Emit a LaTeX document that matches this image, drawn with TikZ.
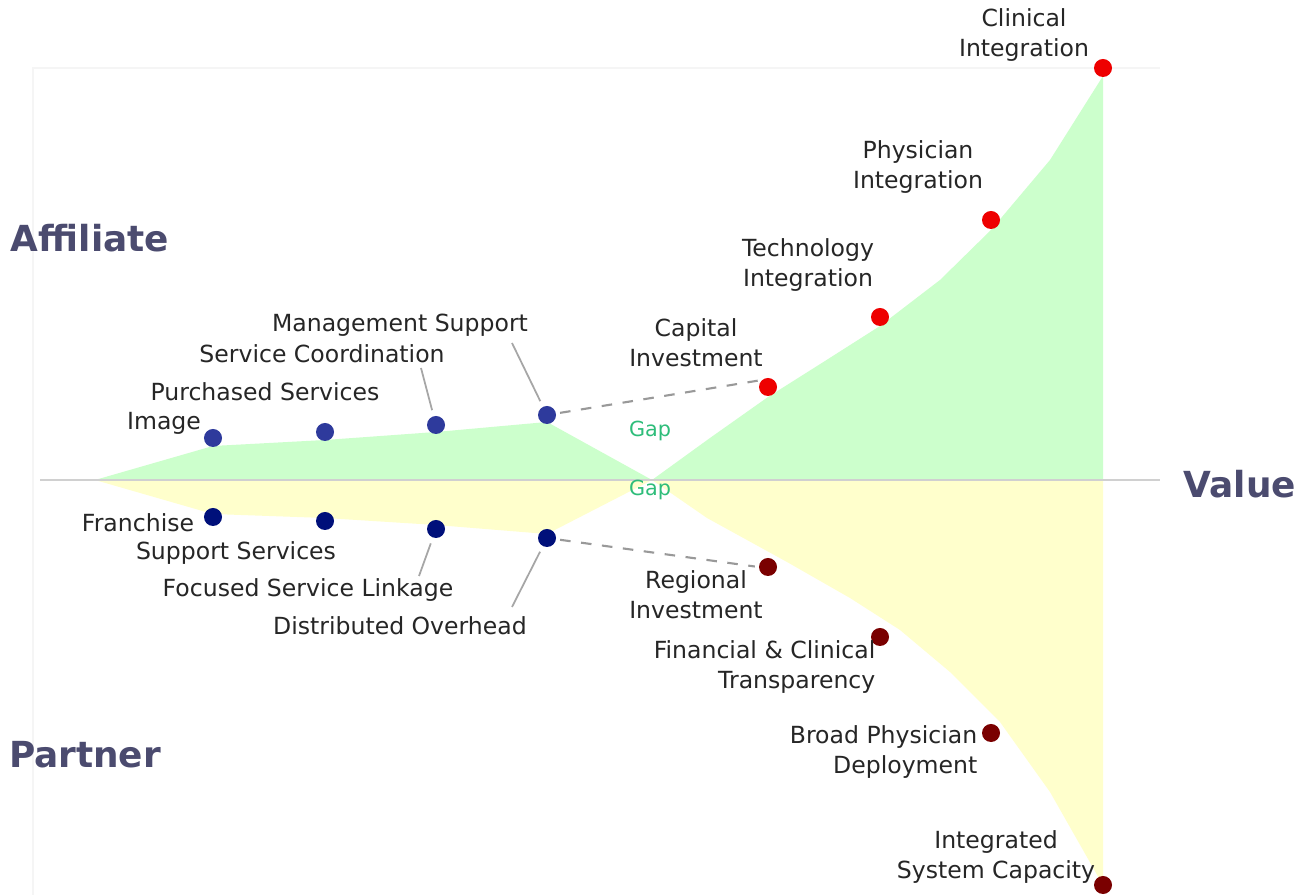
\documentclass[tikz,border=0pt]{standalone}
\usepackage{fontspec}
\setmainfont{DejaVu Sans}
\usepackage{tikz}
\usetikzlibrary{positioning}
\definecolor{textgray}{HTML}{262626}
\definecolor{headslate}{HTML}{4B4B6F}
\definecolor{affgreen}{HTML}{CCFFCC}
\definecolor{partyellow}{HTML}{FFFFCC}
\definecolor{upperblue}{HTML}{2E3A9C}
\definecolor{lowernavy}{HTML}{00107A}
\definecolor{brightred}{HTML}{EE0000}
\definecolor{darkred}{HTML}{7A0000}
\definecolor{gapgreen}{HTML}{2EBD7A}
\definecolor{rulegray}{HTML}{D0D0D0}
\tikzset{
  bubble/.style = {circle, inner sep = 0pt, minimum size = 0.18cm},
  lbl/.style = {text = textgray, align = center, inner sep = 0pt,
                font = \fontsize{6.7}{8.6}\selectfont},
  heading/.style = {text = headslate, inner sep = 0pt,
                    font = \fontsize{10.2}{12}\selectfont\bfseries},
  gaplbl/.style = {text = gapgreen, inner sep = 0pt,
                   font = \fontsize{5.9}{7}\selectfont},
  leader/.style = {draw = gray!70, line width = 0.5pt, shorten > = 1.6pt},
  gapline/.style = {draw = gray!80, dashed, line width = 0.6pt, shorten < = 1pt, shorten > = 1pt}
}
\begin{document}
\begin{tikzpicture}[x = 0.01cm, y = -0.01cm]
            \useasboundingbox (0,0) rectangle (1309,895);
            \fill [white] (0,0) rectangle (1309,895);
            \draw [black!4, line width = 0.4pt] (33,895) -- (33,68) -- (1160,68);

            % shaded bands
            \fill [affgreen] (95,480) -- (213,446) -- (325,440) -- (436,432)
                  -- (547,422) -- (652,480) -- cycle;
            \fill [affgreen] (652,480) -- (710,438) -- (768,397) -- (825,361)
                  -- (880,326) -- (940,280) -- (991,230) -- (1050,160) -- (1103,76)
                  -- (1103,480) -- cycle;
            \fill [partyellow] (95,480) -- (213,514) -- (325,518) -- (436,525)
                  -- (547,534) -- (652,480) -- cycle;
            \fill [partyellow] (652,480) -- (707,518) -- (787,562) -- (850,598)
                  -- (900,630) -- (950,672) -- (1000,722) -- (1050,792) -- (1100,880)
                  -- (1103,885) -- (1103,480) -- cycle;
            \draw [rulegray, line width = 0.6pt] (40,480) node (axis-start){}
                  -- (1160,480) node (axis-end){};

            % affiliate side
            \node [bubble, fill = upperblue] (image-dot) at (213,438) {};
            \node [bubble, fill = upperblue] (purchased-dot) at (325,432) {};
            \node [bubble, fill = upperblue] (coordination-dot) at (436,425) {};
            \node [bubble, fill = upperblue] (management-dot) at (547,415) {};
            \node [bubble, fill = brightred] (capital-dot) at (768,387) {};
            \node [bubble, fill = brightred] (technology-dot) at (880,317) {};
            \node [bubble, fill = brightred] (physician-dot) at (991,220) {};
            \node [bubble, fill = brightred] (clinical-dot) at (1103,68) {};

            % partner side
            \node [bubble, fill = lowernavy] (franchise-dot) at (213,517) {};
            \node [bubble, fill = lowernavy] (support-dot) at (325,521) {};
            \node [bubble, fill = lowernavy] (linkage-dot) at (436,529) {};
            \node [bubble, fill = lowernavy] (overhead-dot) at (547,538) {};
            \node [bubble, fill = darkred] (regional-dot) at (768,567) {};
            \node [bubble, fill = darkred] (transparency-dot) at (880,637) {};
            \node [bubble, fill = darkred] (deployment-dot) at (991,733) {};
            \node [bubble, fill = darkred] (capacity-dot) at (1103,885) {};

            \node [heading] (affiliate-head) at (90,238) {Affiliate};
            \node [heading] (partner-head) at (85,755) {Partner};
            \node [heading, anchor = west] (value-head) at (1183,484) {Value};
            \node [gaplbl] (upper-gap) at (650,431) {Gap};
            \node [gaplbl] (lower-gap) at (650,490) {Gap};

            \node [lbl] (clinical-lbl) at (1024,35) {Clinical\\Integration};
            \node [lbl] (physician-lbl) at (918,167) {Physician\\Integration};
            \node [lbl] (technology-lbl) at (808,265) {Technology\\Integration};
            \node [lbl] (capital-lbl) at (696,343) {Capital\\Investment};
            \node [lbl] (management-lbl) at (400,325) {Management Support};
            \node [lbl] (coordination-lbl) at (322,354) {Service Coordination};
            \node [lbl] (purchased-lbl) at (265,392) {Purchased Services};
            \node [lbl] (image-lbl) at (164,423) {Image};

            \node [lbl] (franchise-lbl) at (138,523) {Franchise};
            \node [lbl] (support-lbl) at (236,553) {Support Services};
            \node [lbl] (linkage-lbl) at (308,590) {Focused Service Linkage};
            \node [lbl] (overhead-lbl) at (400,626) {Distributed Overhead};
            \node [lbl] (regional-lbl) at (696,595) {Regional\\Investment};
            \node [lbl, anchor = east, align = right] (transparency-lbl) at (876,667)
                  {Financial \& Clinical\\Transparency};
            \node [lbl, anchor = east, align = right] (deployment-lbl) at (978,752)
                  {Broad Physician\\Deployment};
            \node [lbl] (capacity-lbl) at (996,857) {Integrated\\System Capacity};

            \coordinate (coordination-tail) at (421,368);
            \coordinate (management-tail) at (512,343);
            \coordinate (linkage-tail) at (419,576);
            \coordinate (overhead-tail) at (512,607);
            \draw [leader] (coordination-tail) -- (coordination-dot);
            \draw [leader] (management-tail) -- (management-dot);
            \draw [leader] (linkage-tail) -- (linkage-dot);
            \draw [leader] (overhead-tail) -- (overhead-dot);

            \draw [gapline] (management-dot) -- (capital-dot.north west);
            \draw [gapline] (overhead-dot) -- (regional-dot.west);
         \end{tikzpicture}
\end{document}
